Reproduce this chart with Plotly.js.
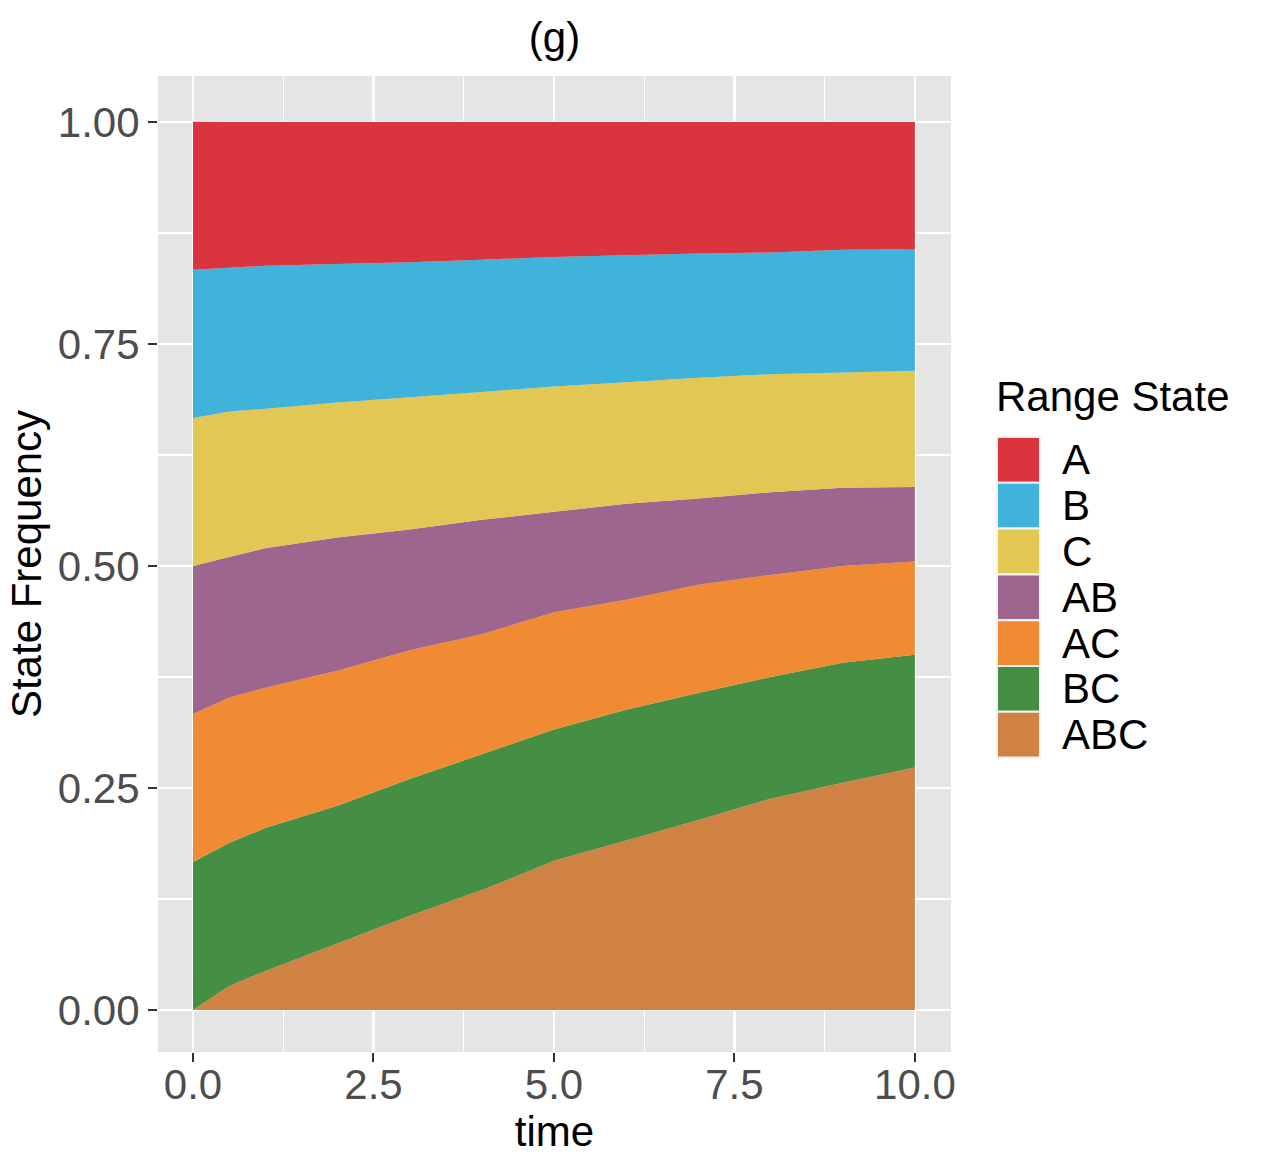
<!DOCTYPE html>
<html>
<head>
<meta charset="utf-8">
<script src="https://cdn.plot.ly/plotly-3.0.1.min.js"></script>
<style>
  body { margin: 0; background: #fff; }
  #chart { width: 1262px; height: 1168px; }
</style>
</head>
<body>
<div id="chart"></div>
<script>
// time points
const times = [0, 0.5, 1, 2, 3, 4, 5, 6, 7, 8, 9, 10];

// state frequencies at each time point
const freqA   = [0.1667, 0.164, 0.162, 0.160, 0.158, 0.155, 0.152, 0.150, 0.148, 0.147, 0.144, 0.143];
const freqB   = [0.1667, 0.162, 0.161, 0.156, 0.152, 0.149, 0.146, 0.143, 0.140, 0.137, 0.138, 0.137];
const freqC   = [0.1667, 0.164, 0.157, 0.152, 0.149, 0.144, 0.141, 0.137, 0.136, 0.133, 0.130, 0.131];
const freqAB  = [0.1667, 0.158, 0.157, 0.150, 0.136, 0.129, 0.113, 0.108, 0.097, 0.093, 0.088, 0.084];
const freqAC  = [0.1667, 0.164, 0.158, 0.152, 0.145, 0.135, 0.132, 0.124, 0.122, 0.115, 0.109, 0.105];
const freqBC  = [0.1667, 0.161, 0.161, 0.155, 0.154, 0.153, 0.148, 0.147, 0.143, 0.137, 0.135, 0.127];
const freqABC = [0, 0.027, 0.044, 0.075, 0.106, 0.135, 0.168, 0.191, 0.214, 0.238, 0.256, 0.273];

const states = ["A", "B", "C", "AB", "AC", "BC", "ABC"];
const stateFreqs = [freqA, freqB, freqC, freqAB, freqAC, freqBC, freqABC];
const stateColors = ["#DA343E", "#40B3DA", "#E2C755", "#9E658E", "#F18B33", "#448F44", "#D08245"];

const xTicks = [0, 2.5, 5, 7.5, 10];
const yTicks = [0, 0.25, 0.5, 0.75, 1];

// plot area in pixels, used to place the hand-made legend
const W = 1262, H = 1168;
const plotL = 158, plotR = 951, plotT = 76, plotB = 1052;
function px2x(p) { return (p - plotL) / (plotR - plotL); }
function px2y(p) { return (plotB - p) / (plotB - plotT); }

const fontFam = "Liberation Sans, Arial, sans-serif";
const fs = 42;

// ggplot stacks the first level on top, so add traces bottom-up
let data = [];
for (let i = states.length - 1; i >= 0; i--) {
  data.push({
    x: times,
    y: stateFreqs[i],
    name: states[i],
    type: "scatter",
    mode: "none",
    stackgroup: "one",
    fillcolor: stateColors[i],
    line: { width: 0 },
    showlegend: false
  });
}

// legend keys and labels
let shapes = [];
let annotations = [];
const keyL = 997, keyR = 1040, keyTop = 437, keyH = 45.8;
for (let i = 0; i < states.length; i++) {
  let top = keyTop + i * keyH;
  shapes.push({
    type: "rect", xref: "paper", yref: "paper",
    x0: px2x(keyL), x1: px2x(keyR), y0: px2y(top + keyH), y1: px2y(top),
    fillcolor: stateColors[i],
    line: { color: "#F2F2F2", width: 2 }
  });
  annotations.push({
    xref: "paper", yref: "paper",
    x: px2x(1060), y: px2y(top + keyH / 2),
    xanchor: "left", yanchor: "middle",
    text: states[i], showarrow: false,
    font: { family: fontFam, size: fs, color: "#000" }
  });
}
annotations.push({
  xref: "paper", yref: "paper",
  x: px2x(994), y: px2y(396),
  xanchor: "left", yanchor: "middle",
  text: "Range State", showarrow: false,
  font: { family: fontFam, size: fs, color: "#000" }
});

let layout = {
  width: W,
  height: H,
  margin: { l: plotL, r: W - plotR, t: plotT, b: H - plotB, pad: 0 },
  paper_bgcolor: "#FFFFFF",
  plot_bgcolor: "#E5E5E5",
  font: { family: fontFam, size: fs, color: "#000" },
  title: {
    text: "(g)",
    x: 0.5, xref: "paper",
    y: 1 - 37 / H, yref: "container", yanchor: "middle",
    font: { size: fs, color: "#000" }
  },
  showlegend: false,
  xaxis: {
    range: [-0.485, 10.5],
    tickvals: xTicks,
    ticktext: xTicks.map(v => v.toFixed(1)),
    ticks: "outside", ticklen: 9, tickwidth: 2, tickcolor: "#333333",
    ticklabelstandoff: -13,
    tickfont: { size: fs, color: "#4D4D4D" },
    showgrid: true, gridcolor: "#FFFFFF", gridwidth: 2.5,
    minor: { tick0: 1.25, dtick: 2.5, showgrid: true, gridcolor: "#FFFFFF", gridwidth: 1.2, ticks: "" },
    zeroline: false, showline: false,
    title: { text: "time", font: { size: fs, color: "#000" }, standoff: 2 }
  },
  yaxis: {
    range: [-0.0473, 1.0518],
    tickvals: yTicks,
    ticktext: yTicks.map(v => v.toFixed(2)),
    ticks: "outside", ticklen: 9, tickwidth: 2, tickcolor: "#333333",
    tickfont: { size: fs, color: "#4D4D4D" },
    showgrid: true, gridcolor: "#FFFFFF", gridwidth: 2.5,
    minor: { tick0: 0.125, dtick: 0.25, showgrid: true, gridcolor: "#FFFFFF", gridwidth: 1.2, ticks: "" },
    zeroline: false, showline: false,
    title: { text: "State Frequency", font: { size: fs, color: "#000" }, standoff: 3 }
  },
  shapes: shapes,
  annotations: annotations
};

Plotly.newPlot("chart", data, layout, { displayModeBar: false, staticPlot: true });
</script>
</body>
</html>
